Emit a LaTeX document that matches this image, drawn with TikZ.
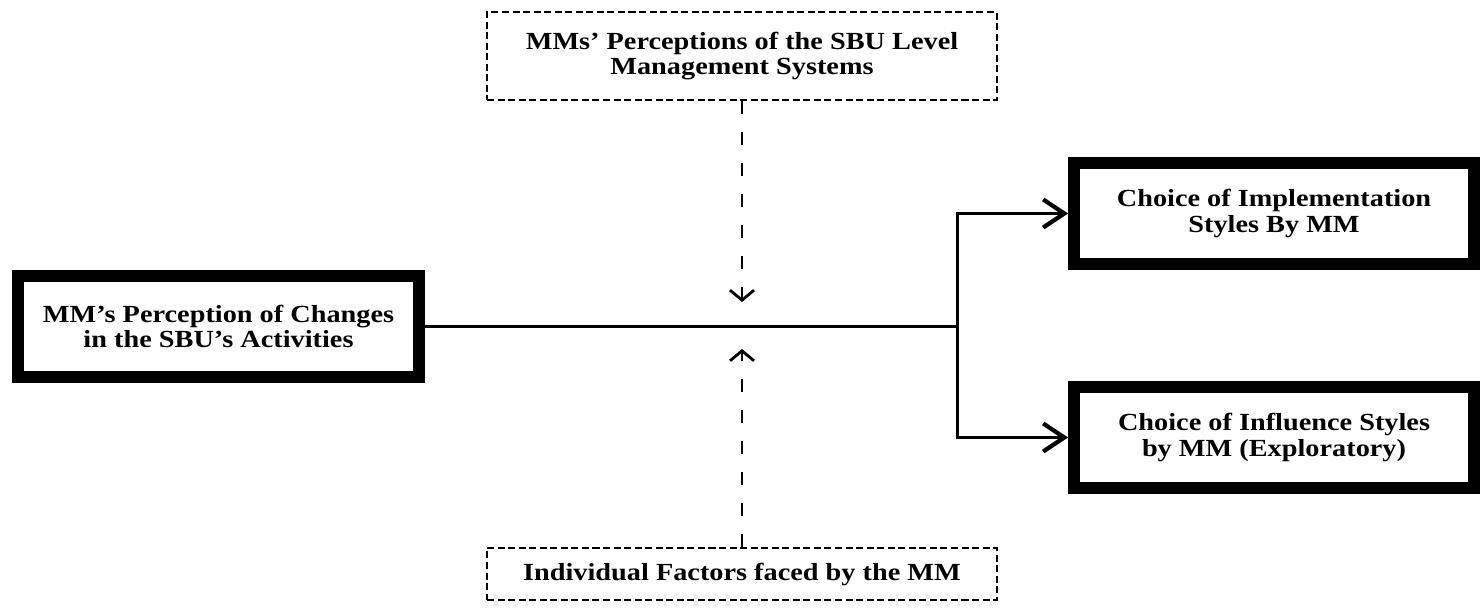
\documentclass[tikz,border=0pt]{standalone}
\usepackage{fontspec}
\setmainfont{Liberation Serif}[FakeStretch=1.15]
\usepackage{tikz}
\usetikzlibrary{positioning, arrows.meta}
\tikzset{heavybox/.style = {draw, line width=6.8pt, minimum width=8cm, minimum height=2.02cm, align=center, inner sep=0pt, font=\fontsize{14}{14.5}\selectfont\bfseries},
         dashbox/.style = {draw, line width=1.3pt, dash pattern=on 4pt off 2pt, minimum width=10.2cm, align=center, inner sep=0pt, font=\fontsize{14}{14.5}\selectfont\bfseries},
         link/.style = {line width=1.7pt, -{Straight Barb[length=0.42cm, width=0.56cm, line width=2.4pt]}},
         modlink/.style = {line width=1.5pt, dash pattern=on 0.26cm off 0.36cm, -{Straight Barb[length=0.2cm, width=0.48cm, line width=1.6pt]}}}

\begin{document}
\begin{tikzpicture}
        \useasboundingbox (0,0) rectangle (29.62,12.16);
        \node [dashbox, minimum height=1.76cm] (sys) at (14.84,11.04) {MMs’ Perceptions of the SBU Level\\Management Systems};
        \node [dashbox, minimum height=1.04cm] (ind) at (14.84, 0.68) {Individual Factors faced by the MM};
        \node [heavybox, minimum width=8.02cm] (chg) at ( 4.37, 5.63) {MM’s Perception of Changes\\in the SBU’s Activities};
        \node [heavybox] (imp) at (25.48, 7.89) {Choice of Implementation\\Styles By MM};
        \node [heavybox] (inf) at (25.48, 3.41) {Choice of Influence Styles\\by MM (Exploratory)};
        \coordinate (jn) at (19.14, 5.63);
        \coordinate (up) at (14.84, 6.12);
        \coordinate (dn) at (14.84, 5.18);
        \draw [line width=1.7pt] (chg.east) -- (jn);
        \draw [link] (jn) |- (imp.west);
        \draw [link] (jn) |- (inf.west);
        \draw [modlink] (sys.south) -- (up);
        \draw [modlink] (ind.north) -- (dn);
    \end{tikzpicture}
\end{document}
